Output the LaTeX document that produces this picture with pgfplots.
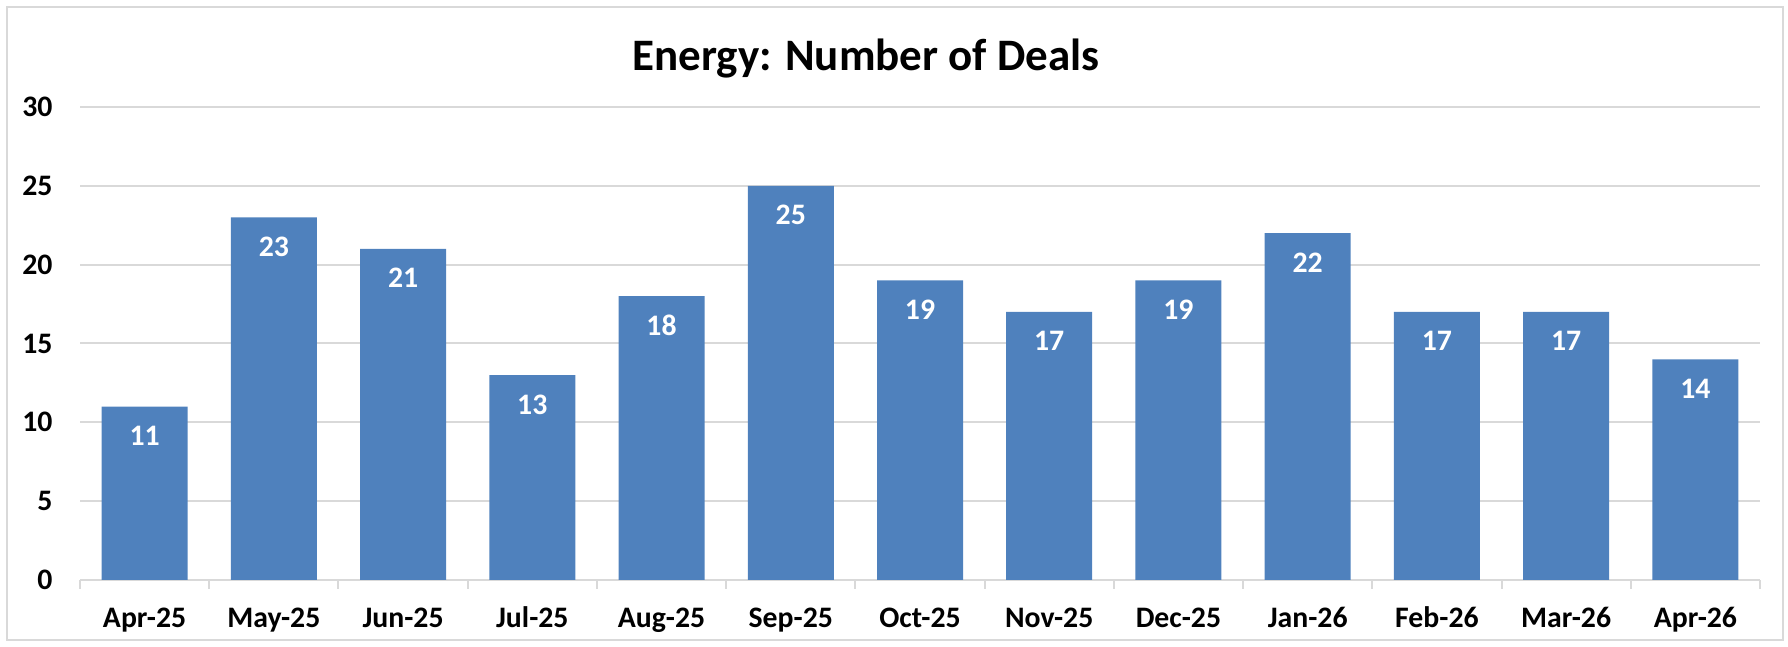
\documentclass[border=0pt]{standalone}
\usepackage{fontspec}
\setmainfont{Carlito}
\usepackage{pgfplots}
\pgfplotsset{compat=1.18}
\definecolor{barblue}{HTML}{4F81BD}
\definecolor{gridgray}{HTML}{D9D9D9}
\begin{document}
\begin{tikzpicture}
\path[use as bounding box] (0pt,0pt) rectangle (715.2pt,258.8pt);
\draw[gridgray, line width=0.8pt] (2.8pt,2.8pt) rectangle (713.2pt,256pt);
\node[anchor=base, font=\fontsize{18}{21}\selectfont\bfseries] at (346.4pt,230.4pt) {Energy: Number of Deals};
\begin{axis}[
  at={(32pt,26.8pt)}, anchor=south west,
  scale only axis, width=672pt, height=189.2pt,
  xmin=-0.5, xmax=12.5, ymin=0, ymax=30,
  ytick={0,5,...,30},
  xtick={0,...,12},
  xticklabels={Apr-25,May-25,Jun-25,Jul-25,Aug-25,Sep-25,Oct-25,Nov-25,Dec-25,Jan-26,Feb-26,Mar-26,Apr-26},
  extra x ticks={-0.5,0.5,...,12.5},
  extra x tick labels={},
  extra x tick style={major tick length=3.6pt, tick align=outside, tick style={draw=gridgray, line width=0.8pt}, grid=none},
  major tick length=0pt,
  axis x line*=bottom, axis y line*=left,
  y axis line style={draw=none},
  x axis line style={draw=gridgray, line width=0.8pt, -},
  ymajorgrids, grid style={draw=gridgray, line width=0.8pt},
  /pgf/number format/assume math mode=true,
  ticklabel style={font=\fontsize{11.9}{14}\selectfont\bfseries},
  yticklabel style={anchor=east, inner sep=0pt, xshift=-10.8pt},
  xticklabel style={anchor=base, inner sep=0pt, yshift=-19.2pt},
  ybar, bar width=34.4pt,
  nodes near coords,
  nodes near coords style={font=\fontsize{11.9}{14}\selectfont\bfseries, text=white, anchor=base, inner sep=0pt, yshift=-15.6pt},
]
\addplot[fill=barblue, draw=none] coordinates {(0,11) (1,23) (2,21) (3,13) (4,18) (5,25) (6,19) (7,17) (8,19) (9,22) (10,17) (11,17) (12,14)};
\end{axis}
\end{tikzpicture}
\end{document}
